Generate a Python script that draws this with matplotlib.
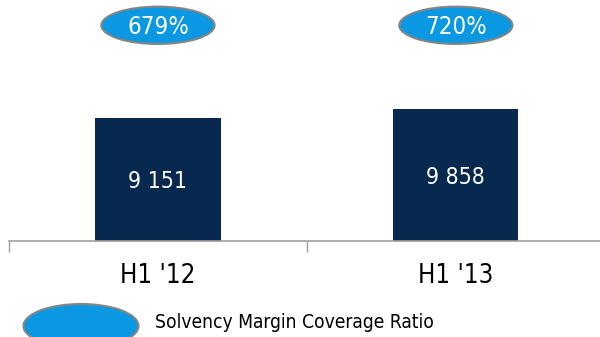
import matplotlib

matplotlib.use("Agg")
import matplotlib.pyplot as plt
from matplotlib.patches import Ellipse
from matplotlib.transforms import blended_transform_factory

# values
periods = ["H1 '12", "H1 '13"]
solvency_capital = [9151, 9858]
capital_labels = ["9 151", "9 858"]
coverage_ratio = ["679%", "720%"]
legend_label = "Solvency Margin Coverage Ratio"

navy = "#07284f"
sky = "#0a98e3"
rim = "#858585"
axis_grey = "#a0a0a0"

fig = plt.figure(figsize=(6.0, 3.37), dpi=100)
ax = fig.add_axes([0.015, 96 / 337, 0.993, 241 / 337])

x = list(range(len(periods)))
bars = ax.bar(x, solvency_capital, width=0.42, color=navy, zorder=2)

for bar, label in zip(bars, capital_labels):
    ax.text(bar.get_x() + bar.get_width() / 2, bar.get_height() / 2 - 150, label,
            ha="center", va="center", color="white", fontsize=16.5,
            fontstretch="condensed")

# ratio bubbles floating above the bars
trans = blended_transform_factory(ax.transData, ax.transAxes)
for xi, ratio in zip(x, coverage_ratio):
    ax.add_patch(Ellipse((xi, 0.895), 0.38, 0.155, transform=trans,
                         facecolor=sky, edgecolor=rim, linewidth=1.5,
                         clip_on=False, zorder=3))
    ax.text(xi, 0.888, ratio, transform=trans, ha="center", va="center",
            color="white", fontsize=17.3, fontstretch="condensed", zorder=4)

ax.set_xlim(-0.5, 1.5)
ax.set_ylim(0, 18000)
ax.set_xticks([-0.5, 0.5])
ax.set_xticklabels([])
ax.tick_params(axis="x", length=8, width=1, color=axis_grey, direction="out")
for xi, name in zip(x, periods):
    ax.text(xi, -0.145, name, transform=trans, ha="center", va="center",
            fontsize=18.5, fontstretch="condensed", color="black")

ax.set_yticks([])
for side in ["top", "right", "left"]:
    ax.spines[side].set_visible(False)
ax.spines["bottom"].set_color(axis_grey)
ax.spines["bottom"].set_linewidth(1.2)

# legend entry at the bottom of the figure
fig.patches.append(Ellipse((81 / 600, 11 / 337), 115 / 600, 44 / 337,
                           transform=fig.transFigure, facecolor=sky,
                           edgecolor=rim, linewidth=1.5))
fig.text(155 / 600, 15 / 337, legend_label, ha="left", va="center",
         fontsize=13.8, fontstretch="condensed", color="black")

fig.savefig("out.png", dpi=100)
